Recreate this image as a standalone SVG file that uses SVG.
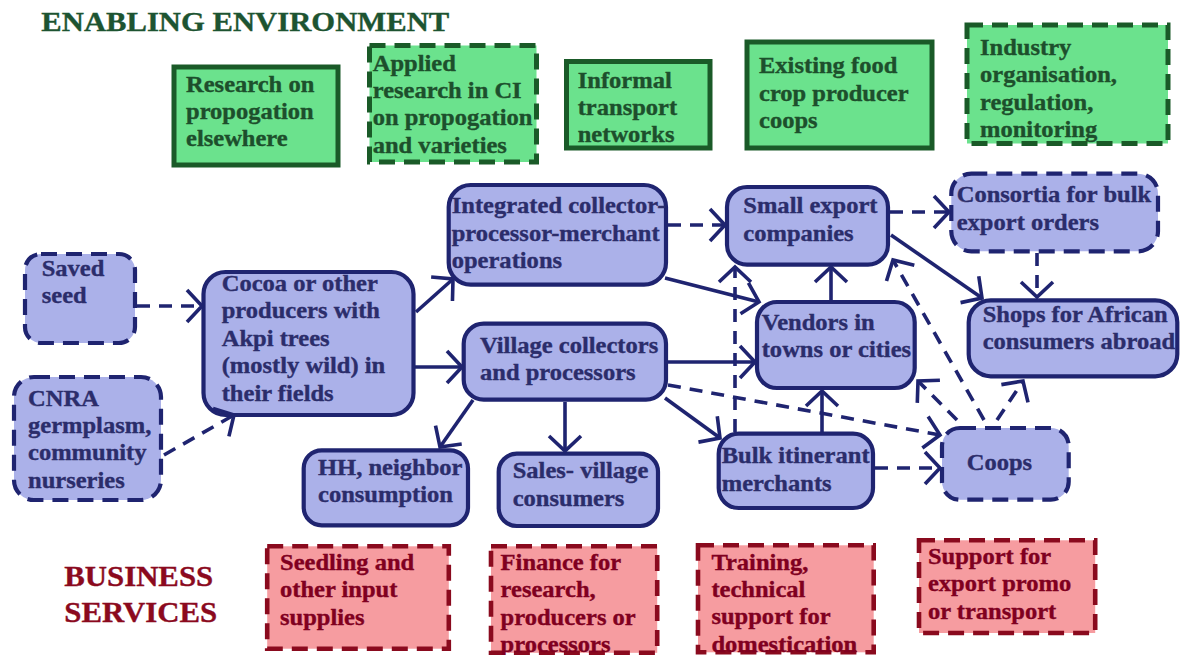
<svg xmlns="http://www.w3.org/2000/svg" width="1186" height="655" viewBox="0 0 1186 655">
<style>
text{font-family:"Liberation Serif","Times New Roman",serif;font-weight:bold;font-size:22.3px;stroke-width:0.35px}
.g rect{fill:#6be28d;stroke:#1a5a28;stroke-width:5}
.b rect{fill:#abb1e9;stroke:#1f2470;stroke-width:4.2}
.r rect{fill:#f69ca0;stroke:#8a0a1e;stroke-width:4.6}
.d rect{stroke-dasharray:16 9}
.g text{fill:#1d4f2c;stroke:#1d4f2c}
.b text{fill:#2b2d6b;stroke:#2b2d6b}
.r text{fill:#800020;stroke:#800020}
#connectors path{fill:none;stroke:#1f2470;stroke-width:3.6;marker-end:url(#arr)}
#connectors .dash{stroke-dasharray:13 9}
</style>
<defs>
<marker id="arr" markerUnits="userSpaceOnUse" orient="auto" refX="0" refY="0" markerWidth="40" markerHeight="40" overflow="visible">
<path d="M-15,-16 L0,0 L-15,16" fill="none" stroke="#1f2470" stroke-width="3.6"/>
</marker>
</defs>
<rect width="1186" height="655" fill="#ffffff"/>

<text transform="translate(41.3,30.7) scale(1.095,1)" style="font-size:28px;fill:#1d5431;stroke:#1d5431">ENABLING ENVIRONMENT</text>
<text transform="translate(64.3,586) scale(1.08,1)" style="font-size:28.5px;fill:#8b0a1e;stroke:#8b0a1e"><tspan x="0">BUSINESS</tspan><tspan x="0" dy="35.7">SERVICES</tspan></text>

<g id="research" class="g"><rect x="174" y="67" width="164" height="98"/><text transform="translate(186,91.7) scale(1.1,1)"><tspan x="0">Research on</tspan><tspan x="0" dy="27.4">propogation</tspan><tspan x="0" dy="27.4">elsewhere</tspan></text></g>
<g id="applied" class="g d"><rect x="369.5" y="45.5" width="167" height="116.5"/><text transform="translate(372.7,70.7) scale(1.1,1)"><tspan x="0">Applied</tspan><tspan x="0" dy="27.4">research in CI</tspan><tspan x="0" dy="27.4">on propogation</tspan><tspan x="0" dy="27.4">and varieties</tspan></text></g>
<g id="informal" class="g"><rect x="566.5" y="61.5" width="143.5" height="86.5"/><text transform="translate(577.7,87.7) scale(1.1,1)"><tspan x="0">Informal</tspan><tspan x="0" dy="27.4">transport</tspan><tspan x="0" dy="27.4">networks</tspan></text></g>
<g id="existing" class="g"><rect x="747" y="42" width="185" height="106"/><text transform="translate(759,73.3) scale(1.1,1)"><tspan x="0">Existing food</tspan><tspan x="0" dy="27.4">crop producer</tspan><tspan x="0" dy="27.4">coops</tspan></text></g>
<g id="industry" class="g d"><rect x="967" y="25" width="201" height="118.5"/><text transform="translate(980,55) scale(1.1,1)"><tspan x="0">Industry</tspan><tspan x="0" dy="27.4">organisation,</tspan><tspan x="0" dy="27.4">regulation,</tspan><tspan x="0" dy="27.4">monitoring</tspan></text></g>

<g id="saved" class="b d"><rect x="25" y="254" width="110" height="89" rx="16"/><text transform="translate(41.7,276) scale(1.1,1)"><tspan x="0">Saved</tspan><tspan x="0" dy="27.4">seed</tspan></text></g>
<g id="cnra" class="b d"><rect x="14" y="377" width="147" height="123" rx="20"/><text transform="translate(28,405.7) scale(1.1,1)"><tspan x="0">CNRA</tspan><tspan x="0" dy="27.4">germplasm,</tspan><tspan x="0" dy="27.4">community</tspan><tspan x="0" dy="27.4">nurseries</tspan></text></g>
<g id="cocoa" class="b"><rect x="203.5" y="272" width="210" height="143" rx="22"/><text transform="translate(221.7,290.7) scale(1.1,1)"><tspan x="0">Cocoa or other</tspan><tspan x="0" dy="27.5">producers with</tspan><tspan x="0" dy="27.5">Akpi trees</tspan><tspan x="0" dy="27.5">(mostly wild) in</tspan><tspan x="0" dy="27.5">their fields</tspan></text></g>
<g id="integrated" class="b"><rect x="448.7" y="185" width="217.3" height="99.7" rx="22"/><text transform="translate(451.7,213.3) scale(1.1,1)"><tspan x="0">Integrated collector-</tspan><tspan x="0" dy="27.4">processor-merchant</tspan><tspan x="0" dy="27.4">operations</tspan></text></g>
<g id="village" class="b"><rect x="463.7" y="323.7" width="202.3" height="76" rx="20"/><text transform="translate(480,352.7) scale(1.1,1)"><tspan x="0">Village collectors</tspan><tspan x="0" dy="27.4">and processors</tspan></text></g>
<g id="hh" class="b"><rect x="303.7" y="450.3" width="164.3" height="75" rx="18"/><text transform="translate(318,475) scale(1.1,1)"><tspan x="0">HH, neighbor</tspan><tspan x="0" dy="27.4">consumption</tspan></text></g>
<g id="sales" class="b"><rect x="498.7" y="453.7" width="159.3" height="72.3" rx="18"/><text transform="translate(512.7,478.3) scale(1.1,1)"><tspan x="0">Sales- village</tspan><tspan x="0" dy="27.4">consumers</tspan></text></g>
<g id="bulk" class="b"><rect x="718.7" y="433.7" width="154.3" height="74.3" rx="20"/><text transform="translate(721.7,463.3) scale(1.1,1)"><tspan x="0">Bulk itinerant</tspan><tspan x="0" dy="27.4">merchants</tspan></text></g>
<g id="smallexport" class="b"><rect x="727" y="187" width="161" height="77.7" rx="20"/><text transform="translate(743.3,213.3) scale(1.1,1)"><tspan x="0">Small export</tspan><tspan x="0" dy="27.4">companies</tspan></text></g>
<g id="vendors" class="b"><rect x="757" y="302" width="157.7" height="86" rx="20"/><text transform="translate(761.7,330) scale(1.1,1)"><tspan x="0">Vendors in</tspan><tspan x="0" dy="27.4">towns or cities</tspan></text></g>
<g id="consortia" class="b d"><rect x="951.3" y="173.7" width="206.7" height="77.6" rx="20"/><text transform="translate(956.7,202.3) scale(1.1,1)"><tspan x="0">Consortia for bulk</tspan><tspan x="0" dy="27.4">export orders</tspan></text></g>
<g id="shops" class="b"><rect x="968.7" y="300.3" width="208.6" height="76" rx="22"/><text transform="translate(982.7,321.7) scale(1.1,1)"><tspan x="0">Shops for African</tspan><tspan x="0" dy="27.4">consumers abroad</tspan></text></g>
<g id="coops" class="b d"><rect x="942" y="428" width="126.7" height="71.7" rx="18"/><text transform="translate(966.7,470) scale(1.1,1)">Coops</text></g>

<g id="seedling" class="r d"><rect x="267.2" y="546.3" width="181.6" height="102.4"/><text transform="translate(280,570) scale(1.1,1)"><tspan x="0">Seedling and</tspan><tspan x="0" dy="27.4">other input</tspan><tspan x="0" dy="27.4">supplies</tspan></text></g>
<g id="finance" class="r d"><rect x="491" y="546.3" width="166.2" height="106.5"/><text transform="translate(500.6,570) scale(1.1,1)"><tspan x="0">Finance for</tspan><tspan x="0" dy="27.4">research,</tspan><tspan x="0" dy="27.4">producers or</tspan><tspan x="0" dy="27.4">processors</tspan></text></g>
<g id="training" class="r d"><rect x="698" y="545.3" width="175.7" height="107"/><text transform="translate(711.4,570) scale(1.1,1)"><tspan x="0">Training,</tspan><tspan x="0" dy="27.2">technical</tspan><tspan x="0" dy="27.2">support for</tspan><tspan x="0" dy="27.2">domestication</tspan></text></g>
<g id="support" class="r d"><rect x="919" y="540.3" width="176.2" height="92.7"/><text transform="translate(927.9,564) scale(1.1,1)"><tspan x="0">Support for</tspan><tspan x="0" dy="27.4">export promo</tspan><tspan x="0" dy="27.4">or transport</tspan></text></g>

<g id="connectors">
<path class="dash" d="M137,306 L202,306"/>
<path class="dash" d="M164,455 L234,415"/>
<path d="M416,312 L453,279"/>
<path d="M415,367 L462,367"/>
<path d="M473,400 L440,447"/>
<path d="M565,402 L565,451"/>
<path d="M665,398 L720,438"/>
<path d="M668,362 L755,362"/>
<path class="dash" d="M668,225 L725,225"/>
<path d="M665,278 L759,302"/>
<path d="M831,300 L831,267"/>
<path d="M822,432 L822,391"/>
<path class="dash" d="M735,432 L735,267"/>
<path class="dash" d="M890,212 L949,212"/>
<path d="M891,235 L982,298"/>
<path class="dash" d="M1037,253 L1037,297"/>
<path class="dash" d="M997,420 L1023,381"/>
<path class="dash" d="M957,420 L918,381"/>
<path class="dash" d="M984,420 L893,260"/>
<path class="dash" d="M668,385 L940,435"/>
<path class="dash" d="M875,468 L940,468"/>
</g>
</svg>
